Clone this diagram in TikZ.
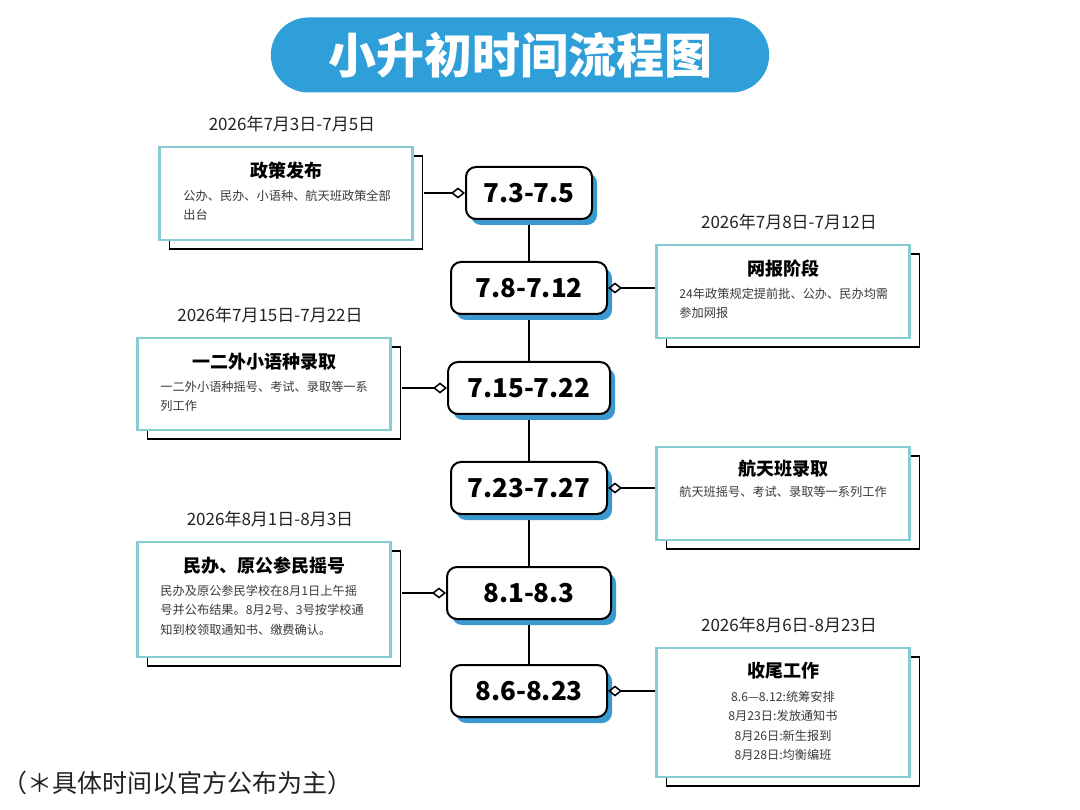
\documentclass[tikz,border=0pt]{standalone}
\usepackage{fontspec}
\setmainfont{Noto Sans CJK SC}
\usetikzlibrary{positioning,arrows.meta,shadows,backgrounds,shapes.misc}
\definecolor{pill}{HTML}{2E9FD8}
\definecolor{cardline}{HTML}{86CCD1}
\definecolor{shade}{HTML}{3A9AD0}
\definecolor{ink}{HTML}{222222}
\definecolor{txt}{HTML}{3A3A3A}

\tikzset{
  titlepill/.style={rounded rectangle, fill=pill, text=white, minimum width=505pt,
    minimum height=75pt, font=\fontsize{48}{52}\selectfont\bfseries},
  datebox/.style={draw=black, line width=2pt, rounded corners=10pt, fill=white,
    minimum width=156pt, minimum height=52pt, text=black,
    font=\fontsize{26}{30}\selectfont\bfseries,
    copy shadow={shadow xshift=5pt, shadow yshift=-6pt, opacity=1, draw=none, fill=shade}},
  card/.style={draw=cardline, line width=2.5pt, fill=white, minimum width=253pt,
    copy shadow={shadow xshift=10pt, shadow yshift=-9pt, opacity=1, draw=black,
      line width=1.5pt, fill=white}},
  cardhead/.style={inner sep=0pt, text=black, font=\fontsize{18}{22}\selectfont\bfseries},
  cardbody/.style={inner sep=0pt, text=txt, align=left, font=\fontsize{12.2}{19.5}\selectfont},
  datelabel/.style={inner sep=0pt, text=ink, font=\fontsize{17}{19}\selectfont},
  spine/.style={line width=2pt},
  link/.style={line width=1.5pt, arrows={Diamond[open,length=14pt,width=11pt]-}}
}

\begin{document}
\begin{tikzpicture}[x=1pt,y=-1pt]
  \useasboundingbox (0,0) rectangle (1080,810);

  % title
  \node[titlepill] (title) at (520,55) {小升初时间流程图};

  % dates on the spine
  \node[datebox, minimum width=126pt] (d1) at (529,193) {7.3-7.5};
  \node[datebox] (d2) at (529,288) {7.8-7.12};
  \node[datebox, minimum width=162pt] (d3) at (529,388) {7.15-7.22};
  \node[datebox] (d4) at (529,488) {7.23-7.27};
  \node[datebox, minimum width=164pt] (d5) at (529,593) {8.1-8.3};
  \node[datebox] (d6) at (529,691) {8.6-8.23};
  \begin{scope}[on background layer]
    \fill[white] (0,0) rectangle (1080,810);
    \draw[spine] (d1) -- (d2) -- (d3) -- (d4) -- (d5) -- (d6);
  \end{scope}

  % 7.3-7.5
  \node[card, minimum height=93pt] (b1) at (286,193.5) {};
  \node[cardhead] (h1) at ([yshift=-25pt]b1.north) {政策发布};
  \node[cardbody, anchor=north west] (p1) at ([xshift=25pt,yshift=-44pt]b1.north west)
    {公办、民办、小语种、航天班政策全部\\出台};
  \node[datelabel, above=14pt of b1, xshift=6pt] (l1) {2026年7月3日-7月5日};
  \draw[link] (d1.west) -- ([xshift=10pt]b1.east |- d1.west);

  % 7.8-7.12
  \node[card, minimum height=93pt] (b2) at (783,291.5) {};
  \node[cardhead] (h2) at ([yshift=-25pt]b2.north) {网报阶段};
  \node[cardbody, anchor=north west] (p2) at ([xshift=24pt,yshift=-44pt]b2.north west)
    {24年政策规定提前批、公办、民办均需\\参加网报};
  \node[datelabel, above=14pt of b2, xshift=6pt] (l2) {2026年7月8日-7月12日};
  \draw[link] (d2.east) -- (d2.east -| b2.west);

  % 7.15-7.22
  \node[card, minimum height=92pt] (b3) at (264,384) {};
  \node[cardhead] (h3) at ([yshift=-25pt]b3.north) {一二外小语种录取};
  \node[cardbody, anchor=north west] (p3) at ([xshift=24pt,yshift=-44pt]b3.north west)
    {一二外小语种摇号、考试、录取等一系\\列工作};
  \node[datelabel, above=14pt of b3, xshift=6pt] (l3) {2026年7月15日-7月22日};
  \draw[link] (d3.west) -- ([xshift=10pt]b3.east |- d3.west);

  % 7.23-7.27
  \node[card, minimum height=93pt] (b4) at (783,493.5) {};
  \node[cardhead] (h4) at ([yshift=-23pt]b4.north) {航天班录取};
  \node[cardbody, anchor=north] (p4) at ([yshift=-40pt]b4.north)
    {航天班摇号、考试、录取等一系列工作};
  \draw[link] (d4.east) -- (d4.east -| b4.west);

  % 8.1-8.3
  \node[card, minimum height=115pt] (b5) at (264,599.5) {};
  \node[cardhead] (h5) at ([yshift=-25pt]b5.north) {民办、原公参民摇号};
  \node[cardbody, anchor=north west] (p5) at ([xshift=24pt,yshift=-44pt]b5.north west)
    {民办及原公参民学校在8月1日上午摇\\号并公布结果。8月2号、3号按学校通\\知到校领取通知书、缴费确认。};
  \node[datelabel, above=14pt of b5, xshift=6pt] (l5) {2026年8月1日-8月3日};
  \draw[link] (d5.west) -- ([xshift=10pt]b5.east |- d5.west);

  % 8.6-8.23
  \node[card, minimum height=129pt] (b6) at (783,712.5) {};
  \node[cardhead] (h6) at ([yshift=-24pt]b6.north) {收尾工作};
  \node[cardbody, align=center, anchor=north] (p6) at ([yshift=-44pt]b6.north)
    {8.6—8.12:统筹安排\\8月23日:发放通知书\\8月26日:新生报到\\8月28日:均衡编班};
  \node[datelabel, above=14pt of b6, xshift=6pt] (l6) {2026年8月6日-8月23日};
  \draw[link] (d6.east) -- (d6.east -| b6.west);

  % footnote
  \node[anchor=west, inner sep=0pt, text=ink, font=\fontsize{25}{27}\selectfont] (note)
    at (2,783) {（＊具体时间以官方公布为主）};
\end{tikzpicture}
\end{document}
